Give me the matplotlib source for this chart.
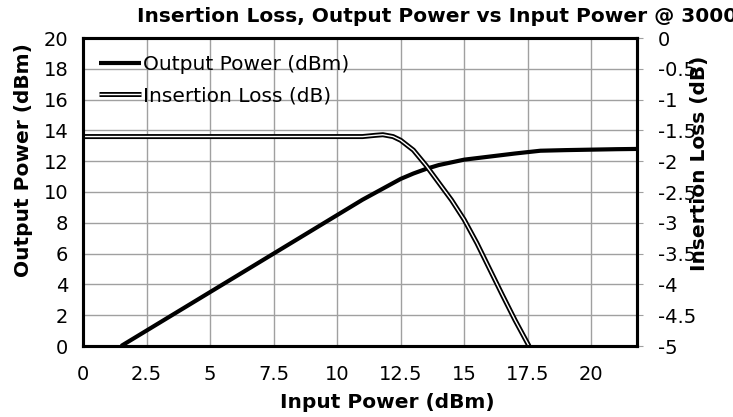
import numpy as np
import matplotlib
matplotlib.use('Agg')
import matplotlib.pyplot as plt
import matplotlib.patheffects as pe

# data
pin_out = [1.5, 2, 4, 6, 8, 10, 11, 12, 12.5, 13, 13.5, 14, 15, 16, 17, 18, 19, 20, 21, 22]
pout = [0, 0.5, 2.5, 4.5, 6.5, 8.5, 9.5, 10.4, 10.85, 11.2, 11.5, 11.75, 12.1, 12.3, 12.5,
        12.68, 12.72, 12.75, 12.78, 12.8]

pin_il = [0, 5, 11, 11.5, 11.8, 12.2, 12.5, 13, 13.5, 14, 14.5, 15, 15.5, 16, 16.5, 17, 17.55]
il = [-1.6, -1.6, -1.6, -1.58, -1.57, -1.6, -1.66, -1.82, -2.07, -2.35, -2.63, -2.95,
      -3.33, -3.75, -4.17, -4.58, -5.0]

xticks = [0, 2.5, 5, 7.5, 10, 12.5, 15, 17.5, 20]
xtick_labels = ['0', '2.5', '5', '7.5', '10', '12.5', '15', '17.5', '20']
left_ticks = list(range(0, 21, 2))
right_ticks = [0, -0.5, -1, -1.5, -2, -2.5, -3, -3.5, -4, -4.5, -5]
right_labels = ['0', '-0.5', '-1', '-1.5', '-2', '-2.5', '-3', '-3.5', '-4', '-4.5', '-5']

fs_tick = 14
fs = 14.5
fig = plt.figure(figsize=(7.33, 4.17), dpi=100)
ax = fig.add_axes([83/733, 1-346/417, (637-83)/733, (346-38)/417])
ax2 = ax.twinx()

ax.set_xlim(0, 21.8)
ax.set_ylim(0, 20)
ax2.set_ylim(-5, 0)

ax.set_xticks(xticks)
ax.set_xticklabels(xtick_labels, fontsize=fs_tick)
ax.set_yticks(left_ticks)
ax.set_yticklabels([str(t) for t in left_ticks], fontsize=fs_tick)
ax2.set_yticks(right_ticks)
ax2.set_yticklabels(right_labels, fontsize=fs_tick)

ax.grid(True, color='#a0a0a0', linewidth=1.0)
ax.set_axisbelow(True)
ax.tick_params(axis='x', length=0, pad=14)
ax.tick_params(axis='y', length=0, pad=10.5)
ax2.tick_params(axis='y', length=4, color='#a0a0a0', pad=11)

for a in (ax, ax2):
    for s in a.spines.values():
        s.set_linewidth(2.2)
        s.set_color('black')

l1, = ax.plot(pin_out, pout, color='black', linewidth=3.0, solid_capstyle='butt',
              label='Output Power (dBm)')
l2, = ax2.plot(pin_il, il, color='white', linewidth=1.0, solid_capstyle='butt',
               label='Insertion Loss (dB)',
               path_effects=[pe.Stroke(linewidth=3.6, foreground='black'), pe.Normal()])

xl = ax.set_xlabel('Input Power (dBm)', fontsize=fs, fontweight='bold', va='center')
ax.xaxis.set_label_coords((387-83)/554, (346-402)/308)
yl = ax.set_ylabel('Output Power (dBm)', fontsize=fs, fontweight='bold', va='center')
ax.yaxis.set_label_coords((24-83)/554, (346-160)/308)
yr = ax2.set_ylabel('Insertion Loss (dB)', fontsize=fs, fontweight='bold', va='center')
ax2.yaxis.set_label_coords((700-83)/554, (346-163)/308)

leg = ax.legend([l1, l2], ['Output Power (dBm)', 'Insertion Loss (dB)'],
                loc='upper left', bbox_to_anchor=(0.0135, 0.971), frameon=False,
                fontsize=fs, handlelength=2.1, handletextpad=0.1, labelspacing=0.62,
                borderaxespad=0)

fig.text(137/733, 1-17/417, 'Insertion Loss, Output Power vs Input Power @ 3000 MHz',
         ha='left', va='center', fontsize=fs, fontweight='bold')

fig.savefig('out.png', dpi=100)
